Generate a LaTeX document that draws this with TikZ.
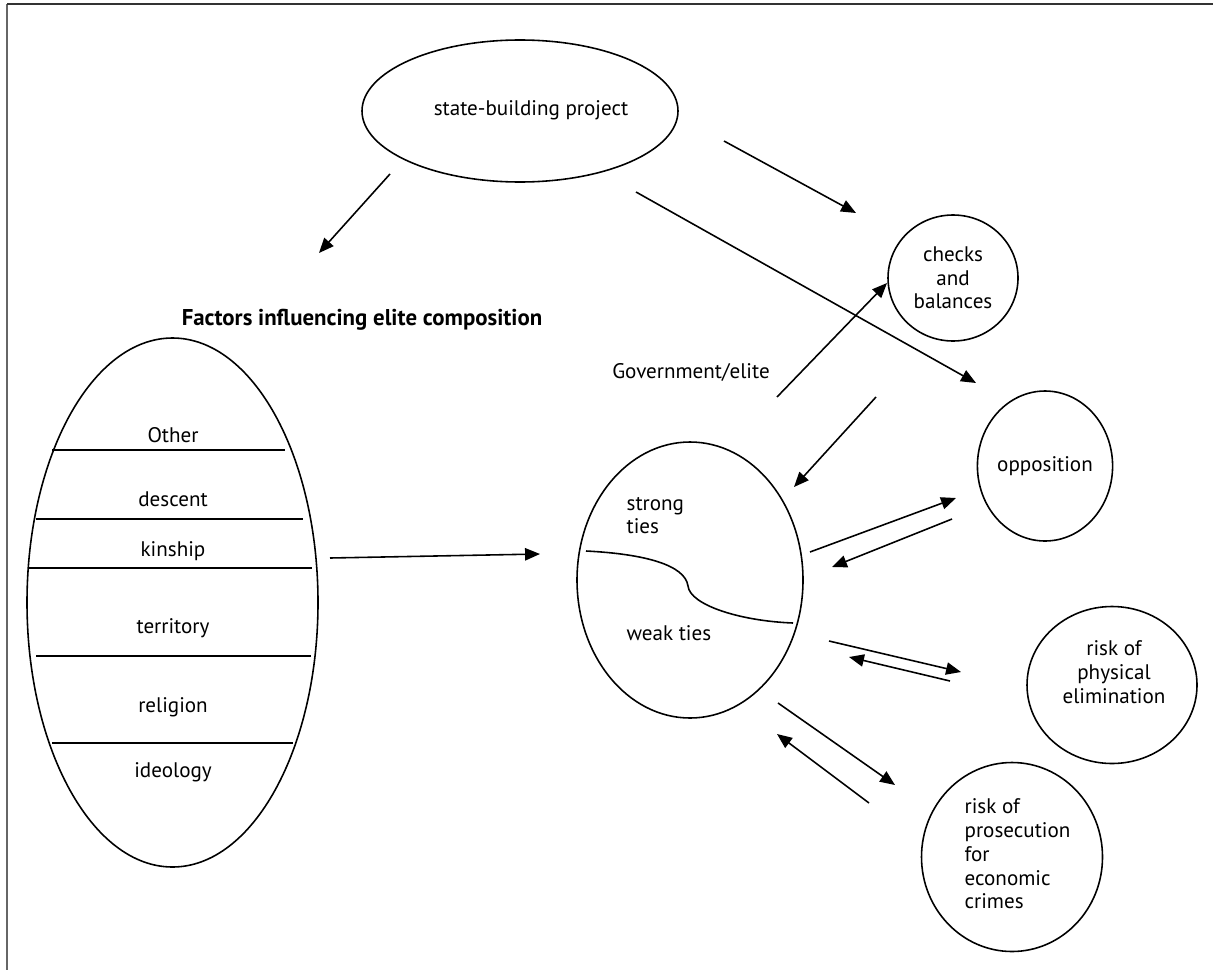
\documentclass[tikz,border=0pt]{standalone}
\usepackage{fontspec}
\setmainfont{PT Sans}
\usetikzlibrary{shapes.geometric,arrows.meta}

\begin{document}
\begin{tikzpicture}[x=1cm,y=1cm,
  line width=0.9pt,
  every node/.style={font=\fontsize{12}{13.5}\selectfont},
  oval/.style={draw,ellipse,inner sep=0pt},
  arr/.style={-{Triangle[length=8.5pt,width=7pt]}}]
\useasboundingbox (0,0) rectangle (24.26,-19.4);

% frame
\draw[gray!80!black,line width=1.4pt] (0.14,-0.08) -- (0.14,-19.4);
\draw[black!80,line width=1.2pt] (0.14,-0.08) -- (24.26,-0.08);

% top
\node[oval,minimum width=6.32cm,minimum height=2.84cm] (state) at (10.4,-2.22) {};
\node (statetext) at (10.62,-2.2) {state-building project};
\node[oval,minimum width=2.6cm,minimum height=2.52cm,align=center] (checks) at (19.06,-5.56) {checks\\and\\balances};

% factors
\node[draw=none,font=\fontsize{13}{14}\selectfont\bfseries] (title) at (7.24,-6.4) {Factors influencing elite composition};
\node[oval,minimum width=5.82cm,minimum height=10.58cm] (factors) at (3.45,-12.05) {};
\draw (1.04,-9.0) -- (5.7,-9.0);
\draw (0.72,-10.38) -- (6.06,-10.38);
\draw (0.58,-11.36) -- (6.24,-11.36);
\draw (0.72,-13.12) -- (6.22,-13.12);
\draw (1.04,-14.86) -- (5.86,-14.86);
\node (other) at (3.46,-8.7) {Other};
\node (descent) at (3.46,-9.98) {descent};
\node (kinship) at (3.46,-11.02) {kinship};
\node (territory) at (3.46,-12.56) {territory};
\node (religion) at (3.46,-14.14) {religion};
\node (ideology) at (3.46,-15.44) {ideology};

% government / elite
\node (gov) at (13.82,-7.44) {Government/elite};
\node[oval,minimum width=4.52cm,minimum height=5.52cm] (ties) at (13.8,-11.6) {};
\node[anchor=west,align=left] (strong) at (12.4,-10.31) {strong\\ties};
\node[anchor=west] (weak) at (12.4,-12.66) {weak ties};
\draw (11.72,-11.02) .. controls (12.9,-11.08) and (13.7,-11.3) .. (13.76,-11.72)
  .. controls (13.8,-12.1) and (14.8,-12.42) .. (15.86,-12.46);

% outcomes
\node[oval,minimum width=2.68cm,minimum height=3.0cm] (opp) at (20.9,-9.32) {opposition};
\node[oval,minimum width=3.4cm,minimum height=3.14cm] (phys) at (22.24,-13.7) {};
\node[align=center] (phystext) at (22.28,-13.44) {risk of\\physical\\elimination};
\node[oval,minimum width=3.62cm,minimum height=3.78cm] (pros) at (20.24,-17.14) {};
\node[align=left,anchor=west] (prostext) at (19.16,-17.08) {risk of\\prosecution\\for\\economic\\crimes};

% arrow ends
\coordinate (s1) at (7.8,-3.48);    \coordinate (f1) at (6.38,-5.06);
\coordinate (s2) at (14.48,-2.82);  \coordinate (c1) at (17.12,-4.26);
\coordinate (s3) at (12.72,-3.84);  \coordinate (o0) at (19.52,-7.66);
\coordinate (f2) at (6.6,-11.16);   \coordinate (t0) at (10.8,-11.08);
\coordinate (g1) at (15.54,-7.94);  \coordinate (c2) at (17.74,-5.66);
\coordinate (g2) at (17.52,-7.94);  \coordinate (t1) at (15.88,-9.74);
\coordinate (t2) at (16.2,-11.04);  \coordinate (o1) at (19.12,-9.96);
\coordinate (o2) at (19.04,-10.38); \coordinate (t3) at (16.64,-11.34);
\coordinate (t4) at (16.58,-12.82); \coordinate (p1) at (19.22,-13.44);
\coordinate (p2) at (19.0,-13.62);  \coordinate (t5) at (16.98,-13.14);
\coordinate (t6) at (15.56,-14.06); \coordinate (r1) at (17.9,-15.7);
\coordinate (r2) at (17.38,-16.06); \coordinate (t7) at (15.54,-14.68);

\draw[arr] (s1) -- (f1);
\draw[arr] (s2) -- (c1);
\draw[arr] (s3) -- (o0);
\draw[arr] (f2) -- (t0);
\draw[arr] (g1) -- (c2);
\draw[arr] (g2) -- (t1);
\draw[arr] (t2) -- (o1);
\draw[arr] (o2) -- (t3);
\draw[arr] (t4) -- (p1);
\draw[arr] (p2) -- (t5);
\draw[arr] (t6) -- (r1);
\draw[arr] (r2) -- (t7);
\end{tikzpicture}
\end{document}
